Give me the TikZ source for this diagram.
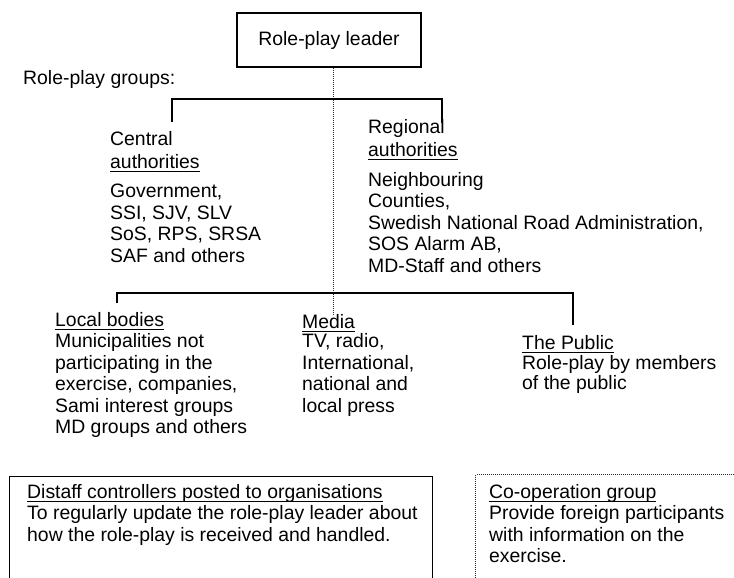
\documentclass[tikz,border=0pt]{standalone}
\usepackage{fontspec}
\setmainfont{Liberation Sans}
\usepackage{tikz}
\usetikzlibrary{positioning}
\definecolor{scangray}{RGB}{45,45,45}
\newcommand{\grouphead}[1]{\setbox0\hbox{#1}\rlap{\rule[-3.5pt]{\wd0}{0.7pt}}\box0}
\tikzstyle{link} = [line width=1.2pt, color=black]
\tikzstyle{thinlink} = [line width=1pt, color=scangray, densely dotted]
\tikzstyle{leaderbox} = [rectangle, draw, line width=1.2pt, minimum width=184pt, minimum height=54pt, inner sep=0pt]
\tikzstyle{grouptext} = [anchor=north west, yshift=14.2pt, inner sep=0pt, align=left, font=\fontsize{19.4}{21.5}\selectfont]
\tikzstyle{panel} = [rectangle, draw, line width=1.2pt, anchor=north west, inner sep=0pt]

\begin{document}
\begin{tikzpicture}[x=1pt, y=-1pt]
\clip (0,0) rectangle (734,578);
% Leader and groups
\node (leader) [leaderbox, font=\fontsize{19.4}{21.5}\selectfont] at (329,40) {Role-play leader};
\node (groups) [grouptext] at (23,84) {Role-play groups:};
\node (central) [grouptext] at (110,145) {Central\\[1.5pt]\grouphead{authorities}\\[8pt]Government,\\SSI, SJV, SLV\\SoS, RPS, SRSA\\SAF and others};
\node (regional) [grouptext] at (368,133) {Regional\\[2pt]\grouphead{authorities}\\[8pt]Neighbouring\\Counties,\\Swedish National Road Administration,\\SOS Alarm AB,\\MD-Staff and others};
\node (local) [grouptext] at (55,326) {\grouphead{Local bodies}\\Municipalities not\\participating in the\\exercise, companies,\\Sami interest groups\\MD groups and others};
\node (media) [grouptext] at (302,328) {\grouphead{Media}\\[-2pt]TV, radio,\\International,\\national and\\local press};
\node (public) [grouptext] at (522,349) {\grouphead{The Public}\\[-1.5pt]Role-play by members\\[-1.5pt]of the public};

% Connectors
\coordinate (hub) at (333,99);
\coordinate (cdrop) at (172,122);
\coordinate (rdrop) at (442,123);
\coordinate (hublow) at (333,293);
\coordinate (ldrop) at (117,303);
\coordinate (pdrop) at (573,325);
\draw[thinlink] (leader.south -| hub) -- (hub |- media.north);
\draw[link] (cdrop) |- (hub) -| (rdrop);
\draw[link] (ldrop) |- (hublow) -| (pdrop);

% Lower panels
\node (distaffbox) [panel, minimum width=423pt, minimum height=130pt] at (9,476) {};
\node (coopbox) [panel, thinlink, minimum width=290pt, minimum height=130pt] at (475,474) {};
\node (distaff) [grouptext] at (27,498) {\grouphead{Distaff controllers posted to organisations}\\To regularly update the role-play leader about\\how the role-play is received and handled.};
\node (coop) [grouptext] at (489,498) {\grouphead{Co-operation group}\\Provide foreign participants\\with information on the\\exercise.};
\end{tikzpicture}
\end{document}
